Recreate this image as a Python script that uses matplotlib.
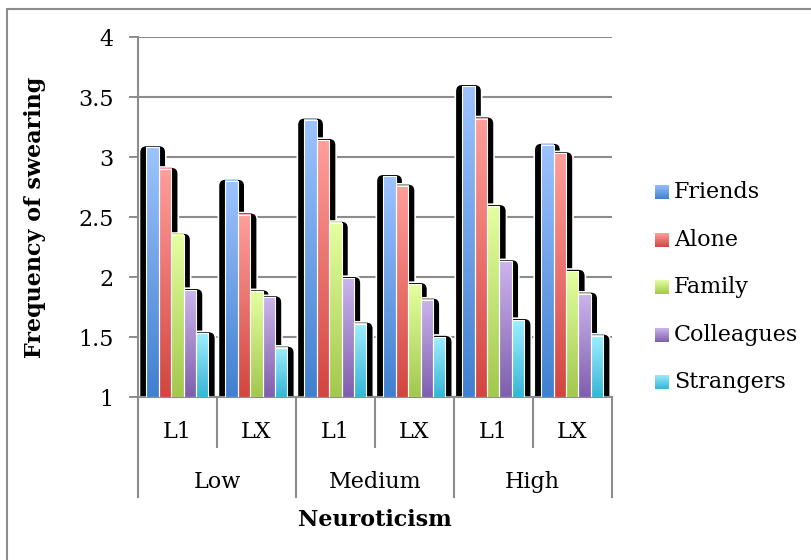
import numpy as np
import matplotlib.pyplot as plt
import matplotlib.transforms as mtransforms
from matplotlib.colors import to_rgb
from matplotlib.patches import FancyBboxPatch, Rectangle

plt.rcParams['font.family'] = 'DejaVu Serif'

# data: swearing frequency by neuroticism level and language (L1 / LX)
levels = ['Low', 'Medium', 'High']
languages = ['L1', 'LX']
series = ['Friends', 'Alone', 'Family', 'Colleagues', 'Strangers']

friends = [3.08, 2.80, 3.31, 2.84, 3.59, 3.10]
alone = [2.90, 2.52, 3.14, 2.76, 3.32, 3.03]
family = [2.35, 1.88, 2.45, 1.94, 2.59, 2.05]
colleagues = [1.89, 1.83, 1.99, 1.81, 2.13, 1.86]
strangers = [1.53, 1.41, 1.61, 1.50, 1.64, 1.51]
all_series = [friends, alone, family, colleagues, strangers]

yticks = [1, 1.5, 2, 2.5, 3, 3.5, 4]
ytick_labels = ['1', '1.5', '2', '2.5', '3', '3.5', '4']

# gradient fills, light at top -> dark at bottom
top_colors = ['#9dc3ff', '#ff9e9a', '#e4ffa0', '#cbb4ec', '#9eeeff']
bottom_colors = ['#4080d0', '#d24641', '#a2c84e', '#7f5fae', '#36b6d6']
grey = '#8c8c8c'
fs = 16


def gradient(top, bottom, n=64):
    t = np.linspace(0, 1, n)[:, None]
    c = (1 - t) * np.array(to_rgb(top)) + t * np.array(to_rgb(bottom))
    return c[:, None, :]


W, H = 812, 560
fig = plt.figure(figsize=(W / 100, H / 100), dpi=100)
ax_l, ax_r, ax_t, ax_b = 138, 611.7, 37, 397
ax = fig.add_axes([ax_l / W, 1 - ax_b / H, (ax_r - ax_l) / W, (ax_b - ax_t) / H])

n_clusters = len(friends)
px_x = n_clusters / (ax_r - ax_l)   # data units per pixel
px_y = 3 / (ax_b - ax_t)
bw = 12.4 * px_x

# black rounded shadows behind every bar
for si, vals in enumerate(all_series):
    for ci, v in enumerate(vals):
        x0 = ci + 0.5 + (si - 2.5) * bw
        sh = FancyBboxPatch((x0 - 7 * px_x, 0.8), bw + 14 * px_x, v - 0.8 + 2 * px_y,
                            boxstyle=f"round,pad=0,rounding_size={7 * px_x}",
                            mutation_aspect=px_y / px_x,
                            fc='black', ec='white', lw=1.2, zorder=2)
        ax.add_patch(sh)

# gradient bars on top
for si, vals in enumerate(all_series):
    img = gradient(top_colors[si], bottom_colors[si])
    for ci, v in enumerate(vals):
        x0 = ci + 0.5 + (si - 2.5) * bw
        ax.imshow(img, extent=(x0, x0 + bw, 1, v), origin='upper',
                  aspect='auto', interpolation='bilinear', zorder=3)
        ax.add_patch(Rectangle((x0, 1), bw, v - 1, fill=False,
                               ec='white', lw=0.8, zorder=4))

ax.set_xlim(0, n_clusters)
ax.set_ylim(1, 4)
ax.set_aspect('auto')

ax.set_yticks(yticks)
ax.set_yticklabels(ytick_labels, fontsize=fs)
ax.tick_params(axis='y', length=6.5, width=1.4, color=grey, pad=11)
ax.set_xticks([])
ax.set_axisbelow(True)
ax.yaxis.grid(True, color=grey, lw=1.5)
for s in ['top', 'right']:
    ax.spines[s].set_visible(False)
for s in ['left', 'bottom']:
    ax.spines[s].set_color(grey)
    ax.spines[s].set_linewidth(1.5)

# two-level category axis
trans = mtransforms.blended_transform_factory(ax.transData, ax.transAxes)
ah = ax_b - ax_t
for xb in range(n_clusters + 1):
    depth = 100 if xb % 2 == 0 else 50
    ax.plot([xb, xb], [0, -depth / ah], transform=trans, color=grey,
            lw=1.5, clip_on=False)
for i in range(n_clusters):
    ax.text(i + 0.5, -35 / ah, languages[i % 2], transform=trans,
            ha='center', va='center', fontsize=fs)
for g, lev in enumerate(levels):
    ax.text(2 * g + 1, -85 / ah, lev, transform=trans,
            ha='center', va='center', fontsize=fs)
ax.text(3, -123 / ah, 'Neuroticism', transform=trans, ha='center',
        va='center', fontsize=fs, fontweight='bold')

ax.set_ylabel('Frequency of swearing', fontsize=fs, fontweight='bold')
ax.yaxis.set_label_coords((46 - ax_l) / (ax_r - ax_l), 0.5)

# legend with gradient swatches
row_y = [192, 240, 287, 335, 382]
for si, name in enumerate(series):
    cy = row_y[si]
    sw = fig.add_axes([655 / W, 1 - (cy + 7) / H, 14 / W, 14 / H])
    sw.imshow(gradient(top_colors[si], bottom_colors[si]), aspect='auto',
              interpolation='bilinear')
    sw.axis('off')
    fig.text(674 / W, 1 - cy / H, name, ha='left', va='center', fontsize=fs)

# chart frame
fig.patches.append(Rectangle((7 / W, -0.1), 1.2, 1 - 9 / H + 0.1,
                             transform=fig.transFigure, fill=False,
                             ec=grey, lw=1.5))

fig.savefig('out.png', dpi=100)
